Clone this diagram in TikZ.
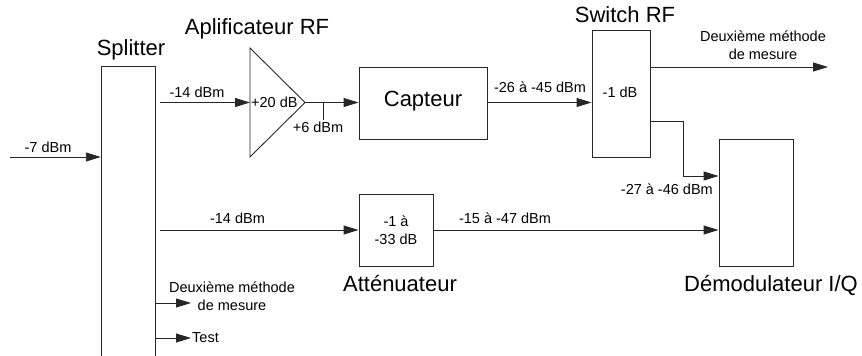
\documentclass[tikz,border=0pt]{standalone}
\usepackage{fontspec}
\setmainfont{Liberation Sans}
\usetikzlibrary{arrows.meta}
\begin{document}
\begin{tikzpicture}[x=1pt,y=-1pt,
  line/.style={draw=black!85,line width=0.9pt},
  arr/.style={line,-{Triangle[length=15pt,width=9pt]}},
  blk/.style={draw=black!85,line width=0.9pt,rectangle,inner sep=0pt},
  big/.style={font=\fontsize{22}{26}\selectfont,inner sep=0pt},
  small/.style={font=\fontsize{14.5}{18}\selectfont,inner sep=0pt,align=center}]
\clip (0,0) rectangle (862,356);
\useasboundingbox (0,0) rectangle (862,356);
% blocks
\node[blk,minimum width=54.5pt,minimum height=294pt] (split) at (128.5,213) {};
\coordinate (ampT) at (250,48);
\coordinate (ampB) at (250,157);
\coordinate (ampO) at (305,102.5);
\coordinate (ampI) at (250,102.5);
\draw[line] (ampT) -- (ampO) -- (ampB) -- cycle;
\node[blk,minimum width=128pt,minimum height=72pt] (capt) at (423,103) {};
\node[blk,minimum width=58pt,minimum height=127pt] (sw) at (621,93.5) {};
\node[blk,minimum width=74pt,minimum height=127pt] (demod) at (756,202.5) {};
\node[blk,minimum width=74pt,minimum height=72pt] (att) at (396,230) {};
% titles
\node[big] (tsplit) at (131,50) {Splitter};
\node[big] (tamp) at (257,29) {Aplificateur RF};
\node[big] (tcapt) at (423,101) {Capteur};
\node[big] (tsw) at (625,15) {Switch RF};
\node[big] (tdemod) at (771,285) {Démodulateur I/Q};
\node[big] (tatt) at (400,284) {Atténuateur};
% inner texts
\node[small,anchor=west] (gain) at (251,102) {+20 dB};
\node[small] (swl) at (620,92) {-1 dB};
\node[small] (attl) at (396,230.5) {-1 à\\-33 dB};
% connectors
\coordinate (inp) at (10,157);
\draw[arr] (inp) -- (inp -| split.west);
\node[small] (l7) at (48,147) {-7 dBm};
\coordinate (s1) at (160,102.5);
\draw[arr] (s1) -- (ampI);
\node[small] (l14a) at (197,92) {-14 dBm};
\draw[arr] (ampO) -- (ampO -| capt.west);
\coordinate (tick) at (323,102.5);
\coordinate (tickb) at (323,120);
\draw[line] (tick) -- (tickb);
\node[small] (l6) at (318,127) {+6 dBm};
\draw[arr] (capt.east |- ampO) -- (ampO -| sw.west);
\node[small] (l26) at (540,87.5) {-26 à -45 dBm};
\coordinate (o1) at (828,67);
\draw[arr] (o1 -| sw.east) -- (o1);
\node[small] (l2m) at (763,45) {Deuxième méthode\\de mesure};
\coordinate (k1) at (683,121);
\coordinate (k2) at (683,176);
\draw[arr] (k1 -| sw.east) -- (k1) -- (k2) -- (k2 -| demod.west);
\node[small,anchor=east] (l27) at (713,189) {-27 à -46 dBm};
\coordinate (s2) at (160,230);
\draw[arr] (s2) -- (s2 -| att.west);
\node[small] (l14b) at (237.5,218) {-14 dBm};
\draw[arr] (att.east) -- (att.east -| demod.west);
\node[small] (l15) at (505,218) {-15 à -47 dBm};
\coordinate (o2) at (191,303);
\draw[arr] (o2 -| split.east) -- (o2);
\node[small] (l2mb) at (232,296) {Deuxième méthode\\de mesure};
\coordinate (o3) at (191,338);
\draw[arr] (o3 -| split.east) -- (o3);
\node[small,anchor=west] (ltest) at (192,338) {Test};
\end{tikzpicture}
\end{document}
